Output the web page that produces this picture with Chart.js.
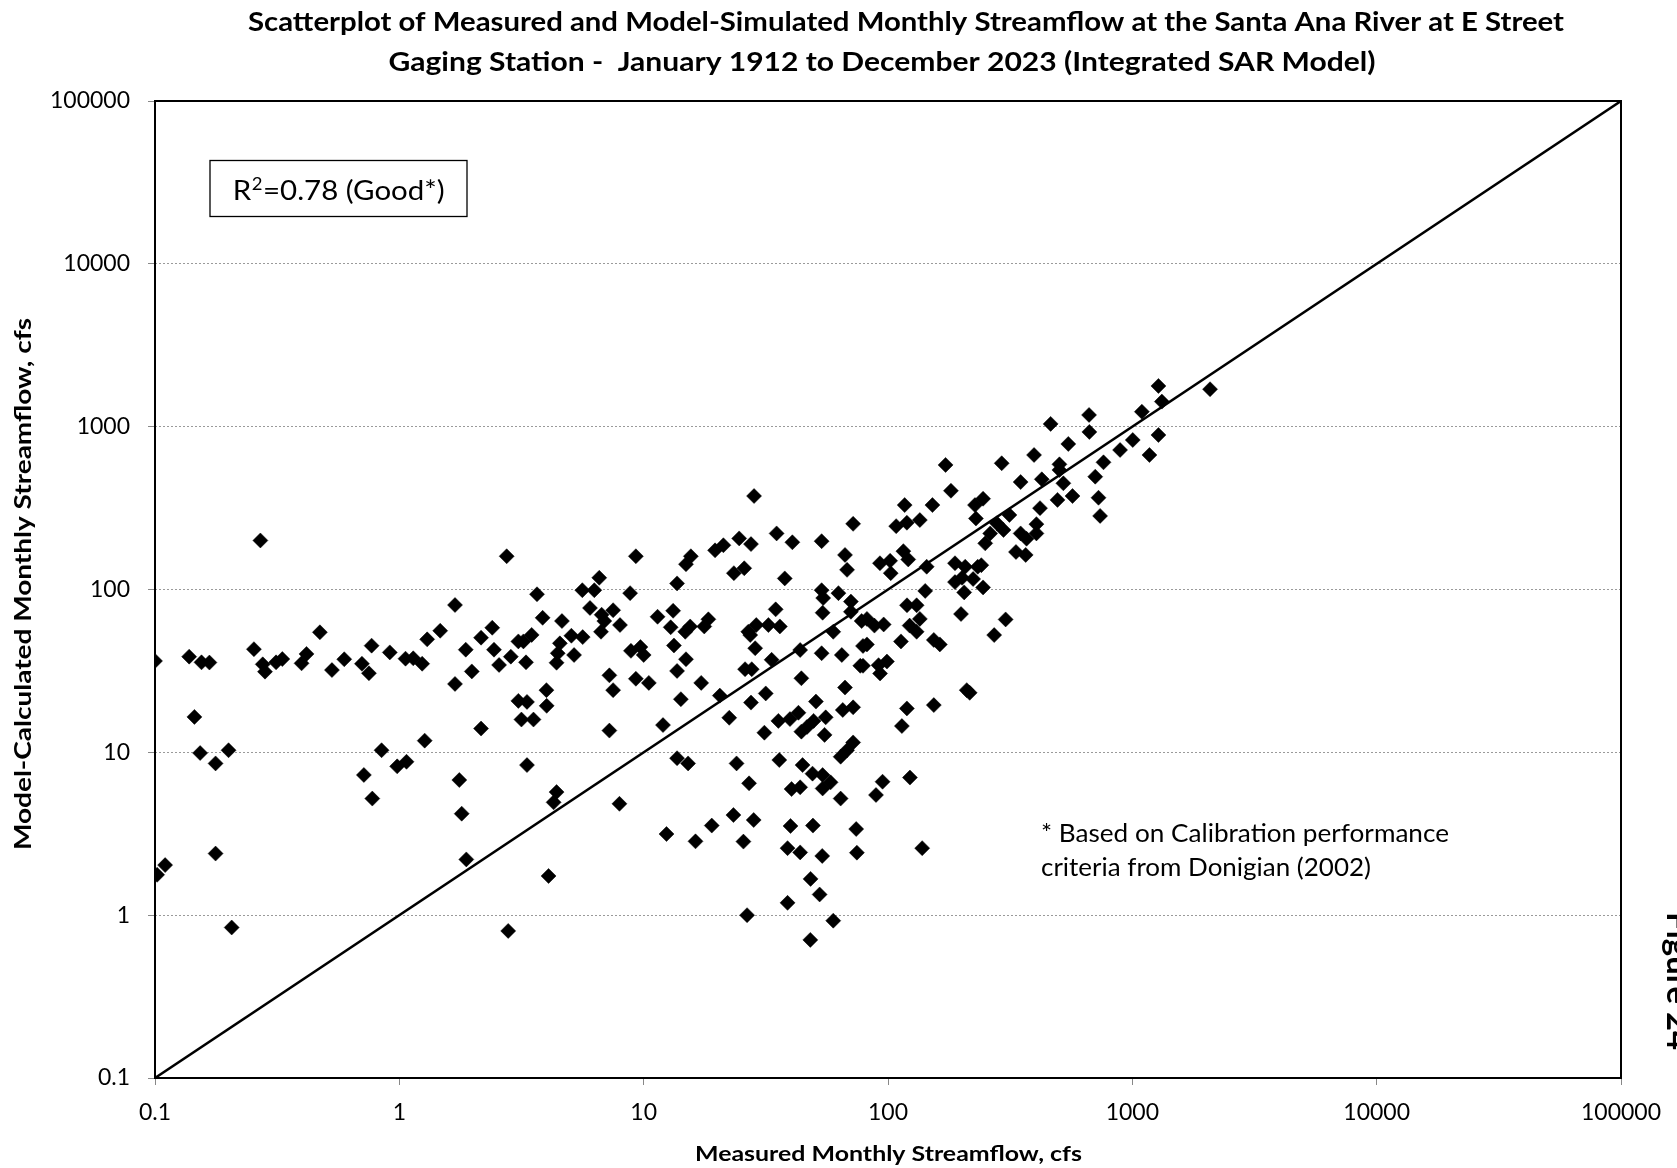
<!DOCTYPE html>
<html>
<head>
<meta charset="utf-8">
<title>Santa Ana River at E Street - measured vs simulated streamflow</title>
<script src="https://cdn.jsdelivr.net/npm/chart.js@4.4.1/dist/chart.umd.min.js"></script>
<style>
  html, body { margin: 0; padding: 0; background: #fff; }
  canvas { display: block; }
</style>
</head>
<body>
<canvas id="scatterChart" width="1677" height="1168"></canvas>
<script>
// Monthly streamflow pairs, cfs (measured at the gage vs. model-calculated)
// low flows, left part of the cloud
const lowMeasured = [
  0.1, 0.138, 0.145, 0.155, 0.167, 0.153, 0.177, 0.2, 0.254, 0.27,
  0.276, 0.282, 0.313, 0.332, 0.398, 0.417, 0.473, 0.53, 0.595, 0.703,
  0.751, 0.77, 0.914, 1.06, 1.14, 1.24, 1.3, 1.47, 1.69, 1.69,
  1.87, 1.98, 2.16, 2.4, 2.44, 2.56, 2.75, 1.27, 2.16, 0.846,
  0.98, 1.07, 0.716, 0.775, 1.76, 1.8, 1.88, 0.11, 0.102, 0.177,
  0.206, 2.79
];
const lowModel = [
  36.4, 38.7, 16.5, 35.7, 35.6, 9.9, 8.55, 10.3, 43, 200,
  34.7, 31.3, 35.7, 37.4, 35.2, 40.2, 54.6, 32, 37.3, 35,
  30.6, 45.2, 41.1, 37.6, 37.8, 35, 49.4, 55.8, 80.3, 26.3,
  42.7, 31.4, 50.6, 58.2, 42.7, 34.4, 160, 11.8, 14, 10.3,
  8.2, 8.75, 7.26, 5.2, 6.76, 4.2, 2.2, 2.03, 1.77, 2.39,
  0.84, 0.8
];

// 3 to 80 cfs measured, model above ~9 cfs
const midMeasured = [
  9.29, 3.66, 3.86, 4.63, 5.61, 6.28, 6.58, 6.03, 6.73, 7.5,
  8.0, 6.69, 6.9, 5.06, 5.63, 4.54, 4.45, 4.4, 5.19, 3.48,
  3.07, 3.22, 2.86, 3.3, 4.0, 4.01, 3.07, 3.33, 3.16, 3.54,
  7.24, 7.24, 7.5, 9.29, 10.5, 8.8, 8.87, 9.7, 10, 11.4,
  13.2, 12.9, 14.8, 15.5, 17.7, 18.4, 13.3, 14.9, 13.7, 17.2,
  14.2, 12, 13.7, 15.6, 14.9, 13.7, 19.6, 21.2, 24.6, 27.5,
  23.4, 25.8, 28.3, 35, 40.6, 37.8, 53.5, 72, 66.7, 68,
  53.5, 54.3, 54, 62.7, 70.5, 70.5, 78, 59.7, 79, 77,
  53.5, 64.7, 44.2, 66.7, 50.7, 55.6, 65.3, 72, 55, 43,
  46.6, 44.2, 35.6, 39.7, 31.2, 27.5, 31.6, 22.4, 20.5, 26,
  27.7, 33.4, 43.7, 28.6, 26.8, 27.3, 28.9, 32.4, 36.1, 34.7,
  49.6, 72, 68, 64
];
const midModel = [
  160, 93.5, 67, 64, 99, 99, 118, 77, 70, 74.6,
  60.5, 55, 64, 52, 51, 46.7, 40.6, 35.5, 39.6, 52.6,
  48, 48, 38.7, 35.7, 24.1, 19.3, 20.7, 20.4, 15.9, 15.9,
  13.6, 29.7, 24.1, 28.3, 26.7, 95, 42, 44.3, 39.6, 68,
  74, 58.6, 55, 59.3, 59.3, 65.6, 45.3, 37.3, 31.6, 26.7,
  21.2, 14.7, 9.2, 160, 143, 109, 174, 187, 206, 190,
  126, 135, 375, 221, 195, 117, 198, 253, 163, 132,
  99, 88.6, 72, 95, 84.3, 73, 64, 55, 45, 34,
  40.6, 39.6, 28.5, 25, 20.5, 16.4, 18.2, 18.9, 12.8, 17.5,
  14.3, 13.4, 15.6, 16, 13.2, 20.2, 23, 16.3, 22.3, 32.4,
  32.4, 37, 42.5, 43.6, 55, 52.5, 60.5, 60.5, 59.3, 75.5,
  15.6, 11.5, 10.3, 9.4
];

// months where the model runs well below the gage
const dryMeasured = [
  3.33, 15.2, 24, 35.9, 44.7, 49.1, 54, 58.2, 54, 40.3,
  43.7, 64, 27, 4.4, 4.28, 7.96, 4.08, 12.4, 16.3, 19,
  23.3, 28.2, 25.6, 39.9, 49.3, 74.1, 38.8, 43.7, 53.8, 74.6,
  48.2, 52.5, 38.8, 26.5, 59.7, 48.1,
  95, 89.3, 123, 138
];
const dryModel = [
  8.35, 8.55, 8.55, 8.97, 8.35, 7.4, 7.25, 6.54, 6.0, 5.95,
  6.1, 5.2, 6.45, 5.7, 4.93, 4.83, 1.74, 3.15, 2.84, 3.55,
  4.12, 3.84, 2.83, 3.53, 3.55, 3.38, 2.58, 2.43, 2.31, 2.42,
  1.67, 1.34, 1.19, 1.0, 0.925, 0.705,
  6.6, 5.47, 7.0, 2.58
];

// high flows, 80 cfs and up
const highMeasured = [
  1279, 2080, 1321, 1094, 1279, 1175, 1004, 891, 762, 705,
  727, 738, 665, 667, 547, 463, 503, 503, 522, 494,
  569, 396, 426, 349, 419, 292, 172, 181, 117, 152,
  108, 119.5, 135, 227, 245, 229, 314, 279, 297, 262,
  250, 349, 369, 405, 405, 334, 366, 115.6, 121, 92.7,
  102, 102.6, 144, 142, 188, 207, 233, 241, 188, 201,
  223, 205, 245, 199, 303, 272, 119.6, 131, 135, 122.6,
  131, 113, 82, 88, 96, 154, 163, 82,
  79, 91.5, 99, 92.8, 210, 216, 119.5, 154, 114
];
const highModel = [
  1778, 1698, 1425, 1236, 889, 670, 828, 719, 604, 493,
  366, 283, 1180, 928, 783, 1040, 587, 542, 449, 355,
  375, 670, 475, 457, 316, 596, 582, 404, 330, 330,
  245, 257, 267, 330, 361, 273, 287, 255, 232, 221,
  192, 221, 205, 221, 252, 170, 163, 172, 153, 145,
  150, 126, 138, 98, 145, 138, 138, 141, 111, 118,
  116, 96, 103, 70.7, 65.5, 52.5, 80, 80, 66, 60,
  55, 48, 66, 60, 61, 49, 46, 46,
  34, 34.3, 36.1, 30.5, 24.1, 23.2, 18.6, 19.5, 14.5
];

// 1:1 line and axis decades
const lineOfEquality = [0.1, 100000];
const decades = [0.1, 1, 10, 100, 1000, 10000, 100000];

const titleLines = [
  'Scatterplot of Measured and Model-Simulated Monthly Streamflow at the Santa Ana River at E Street',
  'Gaging Station -  January 1912 to December 2023 (Integrated SAR Model)'
];
const xTitle = 'Measured Monthly Streamflow, cfs';
const yTitle = 'Model-Calculated Monthly Streamflow, cfs';
const footnote = ['* Based on Calibration performance', 'criteria from Donigian (2002)'];

const measured = lowMeasured.concat(midMeasured, dryMeasured, highMeasured);
const modelled = lowModel.concat(midModel, dryModel, highModel);
const points = measured.map((x, i) => ({ x: x, y: modelled[i] }));
const oneToOne = lineOfEquality.map(v => ({ x: v, y: v }));

// text drawn at a fixed width (stretched/squeezed horizontally)
function fitText(ctx, text, x, y, width, font, align) {
  ctx.font = font;
  const w = ctx.measureText(text).width;
  ctx.save();
  ctx.translate(x, y);
  ctx.scale(width / w, 1);
  ctx.textAlign = align || 'center';
  ctx.textBaseline = 'alphabetic';
  ctx.fillStyle = '#000';
  ctx.fillText(text, 0, 0);
  ctx.restore();
}

const frameAndLabels = {
  id: 'frameAndLabels',
  beforeDatasetsDraw(chart) {
    const { ctx, chartArea: a } = chart;
    ctx.save();
    ctx.strokeStyle = '#000';
    ctx.lineWidth = 2;
    ctx.strokeRect(a.left, a.top, a.right - a.left, a.bottom - a.top);
    ctx.restore();
  },
  afterDraw(chart) {
    const ctx = chart.ctx;

    fitText(ctx, titleLines[0], 906, 31, 1316, 'bold 26px Lato');
    fitText(ctx, titleLines[1], 882, 70.5, 987, 'bold 26px Lato');
    fitText(ctx, xTitle, 888.5, 1161, 387, 'bold 21px Lato');

    ctx.save();
    ctx.translate(31, 584);
    ctx.rotate(-Math.PI / 2);
    fitText(ctx, yTitle, 0, 0, 532, 'bold 22px Lato');
    ctx.restore();

    // R-squared box
    ctx.save();
    ctx.strokeStyle = '#000';
    ctx.lineWidth = 1.3;
    ctx.strokeRect(210, 160.5, 257, 56);
    ctx.font = '27px Lato';
    const wR = ctx.measureText('R').width;
    const wRest = ctx.measureText('=0.78 (Good*)').width;
    ctx.font = '17px Lato';
    const wSup = ctx.measureText('2').width;
    const k = 212 / (wR + wSup + 1 + wRest);
    ctx.translate(232.7, 200);
    ctx.scale(k, 1);
    ctx.fillStyle = '#000';
    ctx.textAlign = 'left';
    ctx.font = '27px Lato';
    ctx.fillText('R', 0, 0);
    ctx.font = '17px Lato';
    ctx.fillText('2', wR + 0.5, -10);
    ctx.font = '27px Lato';
    ctx.fillText('=0.78 (Good*)', wR + wSup + 1, 0);
    ctx.restore();

    fitText(ctx, footnote[0], 1041, 842, 408, '25px Lato', 'left');
    fitText(ctx, footnote[1], 1041, 876, 330, '25px Lato', 'left');

    // page label on the right margin, mostly cut off by the edge
    ctx.save();
    ctx.translate(1667, 912);
    ctx.rotate(Math.PI / 2);
    fitText(ctx, 'Figure 24', 0, 0, 138, 'bold 32px Lato', 'left');
    ctx.restore();
  }
};

function decadeTicks(scale) {
  scale.ticks = decades.map(v => ({ value: v }));
}

function drawChart() {
  const ctx = document.getElementById('scatterChart').getContext('2d');
  new Chart(ctx, {
    type: 'scatter',
    data: {
      datasets: [
        {
          data: points,
          pointStyle: 'rectRot',
          pointRadius: 7.5,
          pointHoverRadius: 7.5,
          backgroundColor: '#000',
          borderColor: '#000',
          borderWidth: 0.5
        },
        {
          data: oneToOne,
          showLine: true,
          borderColor: '#000',
          borderWidth: 2.5,
          pointRadius: 0,
          fill: false
        }
      ]
    },
    options: {
      responsive: false,
      animation: false,
      devicePixelRatio: 1,
      events: [],
      layout: { padding: { top: 101, right: 56, left: 0, bottom: 0 } },
      plugins: {
        legend: { display: false },
        tooltip: { enabled: false }
      },
      scales: {
        x: {
          type: 'logarithmic',
          min: 0.1,
          max: 100000,
          afterBuildTicks: decadeTicks,
          afterFit: s => { s.height = 90; },
          border: { display: false },
          grid: {
            drawOnChartArea: false,
            drawTicks: true,
            tickLength: 7,
            tickColor: '#888',
            color: '#888'
          },
          ticks: {
            autoSkip: false,
            maxRotation: 0,
            padding: 14,
            color: '#000',
            font: { family: 'Lato', size: 23 },
            callback: v => String(v)
          }
        },
        y: {
          type: 'logarithmic',
          min: 0.1,
          max: 100000,
          afterBuildTicks: decadeTicks,
          afterFit: s => { s.width = 155; },
          border: { display: false, dash: [2, 2] },
          grid: {
            color: '#9a9a9a',
            lineWidth: 1,
            drawTicks: true,
            tickLength: 7,
            tickColor: '#888'
          },
          ticks: {
            autoSkip: false,
            padding: 18,
            color: '#000',
            font: { family: 'Lato', size: 23 },
            callback: v => String(v)
          }
        }
      }
    },
    plugins: [frameAndLabels]
  });
}

Promise.all([
  document.fonts.load('23px Lato'),
  document.fonts.load('bold 26px Lato')
]).then(drawChart, drawChart);
</script>
</body>
</html>
